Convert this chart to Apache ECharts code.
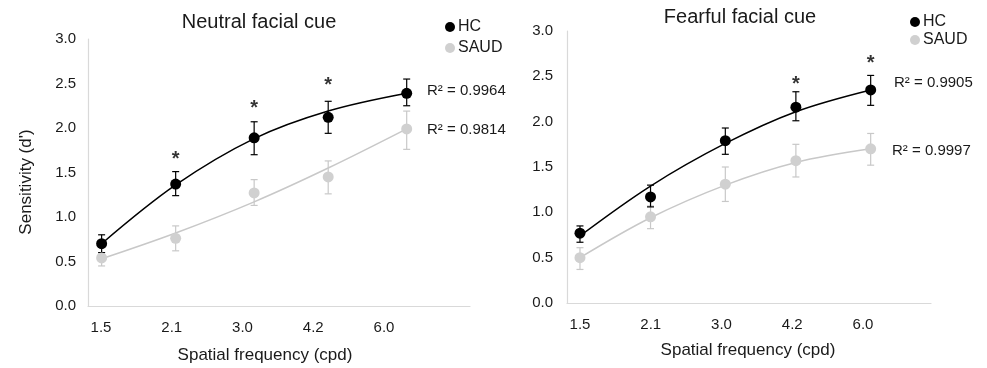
<!DOCTYPE html>
<html>
<head>
<meta charset="utf-8">
<script src="https://cdn.jsdelivr.net/npm/echarts@6/dist/echarts.min.js"></script>
<style>
html,body{margin:0;padding:0;background:#fff;}
#chart{width:987px;height:368px;}
</style>
</head>
<body>
<div id="chart"></div>
<script>
// ---- data ----
const freqs = [1.5, 2.1, 3.0, 4.2, 6.0];
const tickLabels = ['1.5', '2.1', '3.0', '4.2', '6.0'];

// Neutral facial cue
const hcNeutral      = [0.70, 1.37, 1.89, 2.12, 2.39];
const hcNeutralLow   = [0.60, 1.24, 1.70, 1.94, 2.25];
const hcNeutralHigh  = [0.80, 1.51, 2.07, 2.30, 2.55];
const hcNeutralFit   = [0.70, 1.36, 1.88, 2.19, 2.39];
const saudNeutral     = [0.54, 0.76, 1.27, 1.45, 1.99];
const saudNeutralLow  = [0.45, 0.62, 1.13, 1.26, 1.76];
const saudNeutralHigh = [0.60, 0.90, 1.42, 1.63, 2.19];
const saudNeutralFit  = [0.53, 0.82, 1.17, 1.55, 1.99];
const sigNeutralX = [2.1, 3.0, 4.2];
const sigNeutralY = [1.70, 2.28, 2.53];
const r2Neutral = ['R² = 0.9964', 'R² = 0.9814'];

// Fearful facial cue
const hcFearful      = [0.77, 1.17, 1.79, 2.16, 2.35];
const hcFearfulLow   = [0.67, 1.06, 1.64, 2.01, 2.18];
const hcFearfulHigh  = [0.85, 1.30, 1.93, 2.33, 2.51];
const hcFearfulFit   = [0.74, 1.29, 1.76, 2.11, 2.35];
const saudFearful     = [0.50, 0.95, 1.31, 1.57, 1.70];
const saudFearfulLow  = [0.37, 0.82, 1.12, 1.39, 1.52];
const saudFearfulHigh = [0.61, 1.07, 1.50, 1.75, 1.87];
const saudFearfulFit  = [0.50, 0.94, 1.30, 1.55, 1.70];
const sigFearfulX = [4.2, 6.0];
const sigFearfulY = [2.46, 2.70];
const r2Fearful = ['R² = 0.9905', 'R² = 0.9997'];

// ---- styling ----
const FONT = 'Liberation Sans, Arial, sans-serif';
const TXT = '#1a1a1a';
const BLACK = '#000000';
const GRAY = '#d0d0d0';
const AXIS = '#d9d9d9';

function pairs(xs, ys) { return xs.map((x, i) => [x, ys[i]]); }
function triples(xs, lo, hi) { return xs.map((x, i) => [x, lo[i], hi[i]]); }

function errRender(color) {
  return function (params, api) {
    const x = api.value(0);
    const p1 = api.coord([x, api.value(1)]);
    const p2 = api.coord([x, api.value(2)]);
    const w = 3.5;
    const st = { stroke: color, lineWidth: 1.2 };
    return {
      type: 'group',
      children: [
        { type: 'line', shape: { x1: p1[0], y1: p1[1], x2: p2[0], y2: p2[1] }, style: st },
        { type: 'line', shape: { x1: p1[0] - w, y1: p1[1], x2: p1[0] + w, y2: p1[1] }, style: st },
        { type: 'line', shape: { x1: p2[0] - w, y1: p2[1], x2: p2[0] + w, y2: p2[1] }, style: st }
      ]
    };
  };
}

function panelSeries(ax, d) {
  return [
    { name: 'SAUD err', type: 'custom', xAxisIndex: ax, yAxisIndex: ax, renderItem: errRender('#c8c8c8'),
      encode: { x: 0, y: [1, 2] }, data: triples(freqs, d.sLo, d.sHi), z: 2, silent: true },
    { name: 'HC err', type: 'custom', xAxisIndex: ax, yAxisIndex: ax, renderItem: errRender(BLACK),
      encode: { x: 0, y: [1, 2] }, data: triples(freqs, d.hLo, d.hHi), z: 3, silent: true },
    { name: 'SAUD fit', type: 'line', xAxisIndex: ax, yAxisIndex: ax, smooth: 0.35, showSymbol: false,
      data: pairs(freqs, d.sFit), lineStyle: { color: '#c8c8c8', width: 1.5 }, z: 4, silent: true },
    { name: 'HC fit', type: 'line', xAxisIndex: ax, yAxisIndex: ax, smooth: 0.35, showSymbol: false,
      data: pairs(freqs, d.hFit), lineStyle: { color: BLACK, width: 1.5 }, z: 5, silent: true },
    { name: 'SAUD', type: 'scatter', xAxisIndex: ax, yAxisIndex: ax, symbol: 'circle', symbolSize: 11,
      itemStyle: { color: GRAY, opacity: 1 }, data: pairs(freqs, d.s), z: 6 },
    { name: 'HC', type: 'scatter', xAxisIndex: ax, yAxisIndex: ax, symbol: 'circle', symbolSize: 11,
      itemStyle: { color: BLACK, opacity: 1 }, data: pairs(freqs, d.h), z: 7 },
    { name: 'sig', type: 'scatter', xAxisIndex: ax, yAxisIndex: ax, symbol: 'circle', symbolSize: 1,
      itemStyle: { color: 'rgba(0,0,0,0)' }, data: pairs(d.sigX, d.sigY), z: 8, silent: true,
      label: { show: true, position: 'inside', formatter: '*', fontSize: 20, fontWeight: 'bold',
               fontFamily: FONT, color: BLACK, offset: [0, 5] } }
  ];
}

const leftGrid = { left: 88, top: 39, width: 382, height: 267 };
const rightGrid = { left: 567, top: 31, width: 364, height: 272 };

function mainX(g) {
  return { gridIndex: g, type: 'log', min: 1.41, max: 8,
    axisLine: { show: true, lineStyle: { color: AXIS, width: 1.2 } },
    axisTick: { show: false }, axisLabel: { show: false }, splitLine: { show: false } };
}
function labelX(g) {
  return { gridIndex: g, type: 'category', boundaryGap: false, data: tickLabels,
    axisLine: { show: false }, axisTick: { show: false }, splitLine: { show: false },
    axisLabel: { margin: 14, fontSize: 15, color: TXT, fontFamily: FONT } };
}
function mainY(g, margin) {
  return { gridIndex: g, type: 'value', min: 0, max: 3, interval: 0.5,
    axisLine: { show: true, onZero: false, lineStyle: { color: AXIS, width: 1.2 } },
    axisTick: { show: false }, splitLine: { show: false },
    axisLabel: { margin: margin, fontSize: 15, color: TXT, fontFamily: FONT,
                 formatter: v => v.toFixed(1) } };
}
function hiddenY(g) { return { gridIndex: g, type: 'value', min: 0, max: 3, show: false }; }

function txt(x, y, text, size, align, extra) {
  return Object.assign({ type: 'text', x: x, y: y, silent: true,
    style: { text: text, fill: TXT, font: size + 'px ' + FONT, align: align || 'center', verticalAlign: 'middle' } }, extra || {});
}

const option = {
  animation: false,
  backgroundColor: '#ffffff',
  grid: [
    leftGrid,
    { left: 101, top: 39, width: 283, height: 267 },
    rightGrid,
    { left: 580, top: 31, width: 283, height: 272 }
  ],
  xAxis: [mainX(0), labelX(1), mainX(2), labelX(3)],
  yAxis: [mainY(0, 12), hiddenY(1), mainY(2, 14), hiddenY(3)],
  legend: [
    { orient: 'vertical', left: 440, top: 14, data: ['HC', 'SAUD'], icon: 'circle',
      itemWidth: 10, itemHeight: 10, itemGap: 5, selectedMode: false,
      textStyle: { fontSize: 16, color: TXT, fontFamily: FONT, padding: [0, 0, 0, -2] } },
    { orient: 'vertical', left: 905, top: 9, data: ['HC', 'SAUD'], icon: 'circle',
      itemWidth: 10, itemHeight: 10, itemGap: 2, selectedMode: false,
      textStyle: { fontSize: 16, color: TXT, fontFamily: FONT, padding: [0, 0, 0, -2] } }
  ],
  graphic: [
    txt(259, 22, 'Neutral facial cue', 20),
    txt(740, 17, 'Fearful facial cue', 20),
    txt(265, 355, 'Spatial frequency (cpd)', 17),
    txt(748, 350, 'Spatial frequency (cpd)', 17),
    txt(26, 182, "Sensitivity (d')", 17, 'center', { rotation: Math.PI / 2 }),
    txt(427, 91, r2Neutral[0], 15, 'left'),
    txt(427, 130, r2Neutral[1], 15, 'left'),
    txt(894, 83, r2Fearful[0], 15, 'left'),
    txt(892, 151, r2Fearful[1], 15, 'left')
  ],
  series: [].concat(
    panelSeries(0, { h: hcNeutral, hLo: hcNeutralLow, hHi: hcNeutralHigh, hFit: hcNeutralFit,
                     s: saudNeutral, sLo: saudNeutralLow, sHi: saudNeutralHigh, sFit: saudNeutralFit,
                     sigX: sigNeutralX, sigY: sigNeutralY }),
    panelSeries(2, { h: hcFearful, hLo: hcFearfulLow, hHi: hcFearfulHigh, hFit: hcFearfulFit,
                     s: saudFearful, sLo: saudFearfulLow, sHi: saudFearfulHigh, sFit: saudFearfulFit,
                     sigX: sigFearfulX, sigY: sigFearfulY })
  )
};

const chart = echarts.init(document.getElementById('chart'), null, { renderer: 'canvas' });
chart.setOption(option);
</script>
</body>
</html>
